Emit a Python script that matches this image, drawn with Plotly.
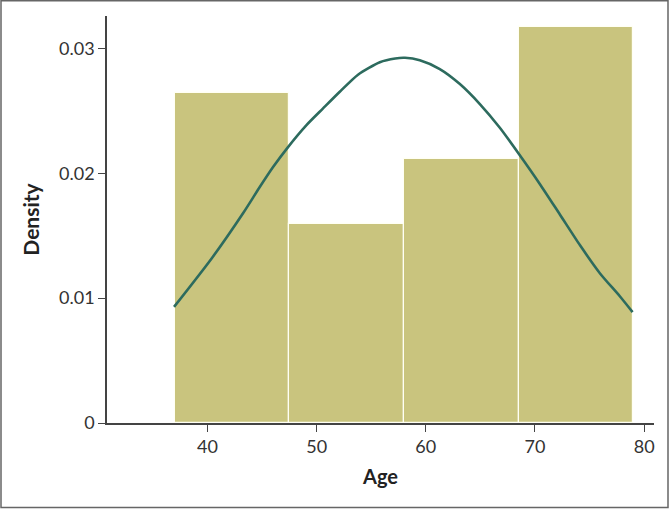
import plotly.graph_objects as go

# Histogram bins (Age) and densities
bin_edges = [37.0, 47.5, 58.0, 68.5, 79.0]
bar_density = [0.02646, 0.01590, 0.02116, 0.03175]

# Fitted density curve
curve_age = [36.94, 40.4, 43.26, 44.79, 46.01, 47.38, 49.07, 50.59, 52.12, 53.79, 55.79,
             57.2, 58.1, 59.45, 61.28, 63.12, 64.95, 66.78, 68.61, 70.44, 72.28, 74.11,
             75.94, 77.77, 78.94]
curve_density = [0.00930, 0.01320, 0.01680, 0.01890, 0.02050, 0.02210, 0.02386, 0.02520,
                 0.02653, 0.02790, 0.02890, 0.02920, 0.02925, 0.02905, 0.02835, 0.02715,
                 0.02555, 0.02365, 0.02145, 0.01915, 0.01670, 0.01425, 0.01200, 0.01015,
                 0.00888]

x_ticks = [40, 50, 60, 70, 80]
y_ticks = [0, 0.01, 0.02, 0.03]
y_tick_text = ["0", "0.01", "0.02", "0.03"]

centers = [(a + b) / 2 for a, b in zip(bin_edges[:-1], bin_edges[1:])]
widths = [b - a for a, b in zip(bin_edges[:-1], bin_edges[1:])]

W, H = 670, 509
ML, MR, MT, MB = 107, 16, 16, 86

fig = go.Figure()
fig.add_trace(go.Bar(
    x=centers, y=bar_density, width=widths,
    marker=dict(color="#C9C47E", line=dict(color="#FFFFF4", width=1.2)),
    hoverinfo="skip", showlegend=False,
))
fig.add_trace(go.Scatter(
    x=curve_age, y=curve_density, mode="lines",
    line=dict(color="#2D6B5E", width=2.6, shape="spline", smoothing=0.7),
    showlegend=False,
))

font_family = "Lato, 'Open Sans', sans-serif"
fig.update_layout(
    width=W, height=H,
    margin=dict(l=ML, r=MR, t=MT, b=MB),
    paper_bgcolor="white", plot_bgcolor="white",
    font=dict(family=font_family, size=17, color="#333333"),
    bargap=0,
    xaxis=dict(
        range=[30.8, 80.9], tickvals=x_ticks, showgrid=False, zeroline=False,
        showline=True, linecolor="#444444", linewidth=1.5,
        ticks="outside", ticklen=7, tickwidth=1.2, tickcolor="#444444",
        tickfont=dict(size=18, color="#333333"),
        title=dict(text="<b>Age</b>", font=dict(size=20, color="#222222"), standoff=14),
    ),
    yaxis=dict(
        range=[0, 0.0326], tickvals=y_ticks, ticktext=y_tick_text,
        showgrid=False, zeroline=False,
        showline=True, linecolor="#444444", linewidth=1.5,
        ticks="outside", ticklen=7, tickwidth=1.2, tickcolor="#444444",
        tickfont=dict(size=18, color="#333333"),
        title=dict(text="<b>Density</b>", font=dict(size=21, color="#222222"), standoff=14),
    ),
)

# Frame around the whole figure
pw, ph = W - ML - MR, H - MT - MB
fig.add_shape(
    type="rect", xref="paper", yref="paper",
    x0=(1 - ML) / pw, x1=(668 - ML) / pw,
    y0=(H - 507.5 - MB) / ph, y1=(H - 0.8 - MB) / ph,
    line=dict(color="#666666", width=1.5), fillcolor="rgba(0,0,0,0)", layer="above",
)

fig.write_html(
    "out.html",
    config={"displayModeBar": False},
    post_script="document.body.style.margin='0';document.body.style.overflow='hidden';",
)
